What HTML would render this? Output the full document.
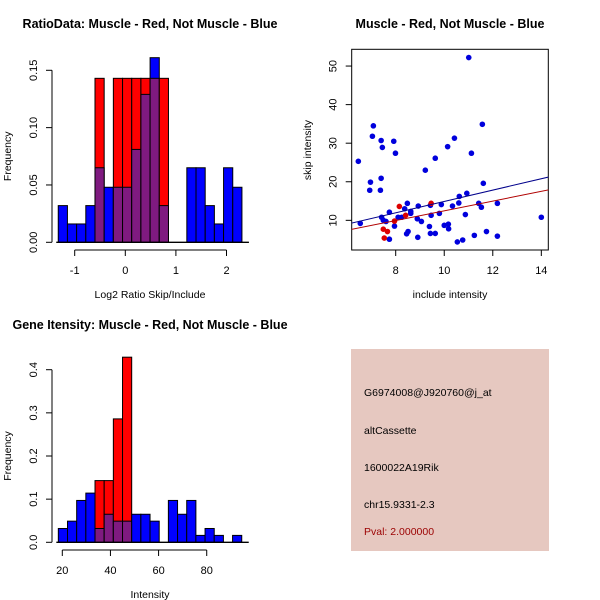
<!DOCTYPE html>
<html><head><meta charset="utf-8"><style>
body{margin:0;background:#fff}
svg{display:block;font-family:"Liberation Sans",sans-serif}
</style></head><body>
<svg id="c" width="600" height="600" viewBox="0 0 600 600" xmlns="http://www.w3.org/2000/svg">
<rect width="600" height="600" fill="#fff"/>
<text x="150" y="28" text-anchor="middle" font-size="12.5" font-weight="bold">RatioData: Muscle - Red, Not Muscle - Blue</text>
<text x="450" y="28" text-anchor="middle" font-size="12.5" font-weight="bold">Muscle - Red, Not Muscle - Blue</text>
<text x="150" y="329" text-anchor="middle" font-size="12.5" font-weight="bold">Gene Itensity: Muscle - Red, Not Muscle - Blue</text>
<g id="g1"></g>
<g id="g2"></g>
<g id="g3"></g>
<g>
<rect x="351" y="349" width="198" height="202" fill="#e6c8c0"/>
<text x="364" y="396" font-size="10.5">G6974008@J920760@j_at</text>
<text x="364" y="434" font-size="10.5">altCassette</text>
<text x="364" y="471" font-size="10.5">1600022A19Rik</text>
<text x="364" y="508" font-size="10.5">chr15.9331-2.3</text>
<text x="364" y="535" font-size="10.5" fill="#9b0000">Pval: 2.000000</text>
</g>
</svg>
<script>
// Ratio histogram data
const ratioBlue=[0.032,0.016,0.016,0.032,0.065,0.048,0.048,0.048,0.081,0.129,0.161,0.032,0,0,0.065,0.065,0.032,0.016,0.065,0.048];
const ratioRed=[0,0,0,0,0.143,0,0.143,0.143,0.143,0.143,0.143,0.143,0,0,0,0,0,0,0,0];
const ratioXTicks=[-1,0,1,2];
const ratioYTicks=[0,0.05,0.10,0.15];
const ratioYLabels=["0.00","0.05","0.10","0.15"];
// Intensity histogram data
const intBlue=[0.032,0.049,0.097,0.114,0.032,0.065,0.049,0.049,0.065,0.065,0.049,0,0.097,0.065,0.097,0.016,0.032,0.016,0,0.016];
const intRed=[0,0,0,0,0.143,0.143,0.286,0.429,0,0,0,0,0,0,0,0,0,0,0,0];
const intXTicks=[20,40,60,80];
const intYTicks=[0,0.1,0.2,0.3,0.4];
const intYLabels=["0.0","0.1","0.2","0.3","0.4"];
// Scatter data
const blueX=[6.46,6.54,6.93,6.96,7.08,7.04,7.40,7.45,7.40,7.37,7.42,7.49,7.6,7.74,7.74,7.92,7.99,7.95,8.1,8.25,8.37,8.48,8.45,8.51,8.62,8.62,8.91,8.93,8.89,9.06,9.22,9.39,9.43,9.46,9.43,9.63,9.63,9.80,9.88,10.0,10.14,10.17,10.18,10.34,10.42,10.54,10.6,10.62,10.76,10.87,10.93,11.01,11.12,11.24,11.42,11.53,11.57,11.61,11.74,12.19,12.19,14.0];
const blueY=[25.3,9.2,17.8,19.9,34.5,31.8,30.7,28.9,20.9,17.8,10.8,10.0,9.7,12.1,5.1,30.5,27.4,8.5,10.8,10.8,13.0,14.4,6.5,7.1,12.3,11.8,5.6,13.7,10.4,9.7,23.0,8.4,13.9,11.3,6.6,6.6,26.1,11.8,14.1,8.7,29.1,9.0,7.8,13.7,31.3,4.4,14.5,16.2,4.9,11.5,17.0,52.2,27.4,6.1,14.4,13.4,34.9,19.6,7.1,14.4,5.9,10.8];
const redX=[8.15,8.41,7.95,7.49,7.66,7.53,9.46];
const redY=[13.6,11.3,9.8,7.7,7.1,5.4,14.4];
const blueFit=[0.2,1.47];
const redFit=[-0.13,1.26];
const scXTicks=[8,10,12,14];
const scYTicks=[10,20,30,40,50];

const NS="http://www.w3.org/2000/svg";
function mk(p,tag,at){const e=document.createElementNS(NS,tag);for(const k in at)e.setAttribute(k,at[k]);p.appendChild(e);return e;}

function hist(g,blue,red,x0,bw,sx,sy,xt,yt,yl,yAxX,xAxY,xlab){
  const base=sy(0);
  for(let i=0;i<blue.length;i++){
    const xa=sx(x0+i*bw),xb=sx(x0+(i+1)*bw);
    const b=blue[i],r=red[i];
    const hi=Math.max(b,r),lo=Math.min(b,r);
    if(hi>0){
      const e=mk(g,'rect',{x:xa,y:sy(hi),width:xb-xa,height:base-sy(hi),fill:b>=r?'#0000ff':'#ff0000',stroke:'#000','stroke-width':1});
      
      
    }
    if(lo>0){
      const e=mk(g,'rect',{x:xa,y:sy(lo),width:xb-xa,height:base-sy(lo),fill:'#7f1a80',stroke:'#000','stroke-width':1});
      
      
    }
  }
  const bl=mk(g,'line',{x1:sx(x0)-2,x2:sx(x0+bw*blue.length)+7,y1:base,y2:base,stroke:'#000','stroke-width':1.3});
  
  
  const ya=mk(g,'line',{x1:yAxX,x2:yAxX,y1:sy(yt[0]),y2:sy(yt[yt.length-1]),stroke:'#000'});
  
  
  yt.forEach((v,i)=>{
    mk(g,'line',{x1:yAxX-6,x2:yAxX,y1:sy(v),y2:sy(v),stroke:'#000'});
    const t=mk(g,'text',{x:yAxX-15,y:sy(v),'font-size':11,'text-anchor':'middle',transform:`rotate(-90 ${yAxX-15} ${sy(v)})`});
    t.textContent=yl[i];
    
    
  });
  const xa2=mk(g,'line',{x1:sx(xt[0]),x2:sx(xt[xt.length-1]),y1:xAxY,y2:xAxY,stroke:'#000'});
  
  
  xt.forEach(v=>{
    mk(g,'line',{x1:sx(v),x2:sx(v),y1:xAxY,y2:xAxY+6,stroke:'#000'});
    const t=mk(g,'text',{x:sx(v),y:xAxY+24,'font-size':11,'text-anchor':'middle'});
    t.textContent=String(v);
    
    
  });
  const xl=mk(g,'text',{x:150,y:xAxY+48,'font-size':10.5,'text-anchor':'middle'});
  xl.textContent=xlab;
  
  
  const my=(sy(yt[0])+sy(yt[yt.length-1]))/2;
  const yl2=mk(g,'text',{x:11,y:my,'font-size':10.5,'text-anchor':'middle',transform:`rotate(-90 11 ${my})`});
  yl2.textContent='Frequency';
  
  
}

hist(document.getElementById('g1'),ratioBlue,ratioRed,-1.325,0.1815,
  v=>125.3+v*50.6, v=>242.3-v*1146.7, ratioXTicks,ratioYTicks,ratioYLabels,52,250,'Log2 Ratio Skip/Include');
hist(document.getElementById('g3'),intBlue,intRed,18.35,3.81,
  v=>62.3+(v-20)*2.407, v=>542.3-v*431.5, intXTicks,intYTicks,intYLabels,52,550,'Intensity');

(function(){
  const g=document.getElementById('g2');
  const sx=v=>395.7+(v-8)*24.27, sy=v=>258.9-v*3.857;
  const L=351.7,R=548.3,T=49.3,B=250;
  const fr=mk(g,'rect',{x:L,y:T,width:R-L,height:B-T,fill:'none',stroke:'#000'});
  
  
  const cp=mk(g,'clipPath',{id:'cp'});mk(cp,'rect',{x:L,y:T,width:R-L,height:B-T});
  const pts=mk(g,'g',{'clip-path':'url(#cp)'});
  blueX.forEach((x,i)=>{
    const c=mk(pts,'circle',{cx:sx(x),cy:sy(blueY[i]),r:2.8,fill:'#0000dd'});
    
    
  });
  redX.forEach((x,i)=>{
    const c=mk(pts,'circle',{cx:sx(x),cy:sy(redY[i]),r:2.8,fill:'#dd0000'});
    
    
  });
  const x1=6.1,x2=14.4;
  const lb=mk(pts,'line',{x1:sx(x1),x2:sx(x2),y1:sy(blueFit[0]+blueFit[1]*x1),y2:sy(blueFit[0]+blueFit[1]*x2),stroke:'#00008b','stroke-width':1});
  
  
  const lr=mk(pts,'line',{x1:sx(x1),x2:sx(x2),y1:sy(redFit[0]+redFit[1]*x1),y2:sy(redFit[0]+redFit[1]*x2),stroke:'#b00000','stroke-width':1});
  
  
  scXTicks.forEach(v=>{
    mk(g,'line',{x1:sx(v),x2:sx(v),y1:B,y2:B+6,stroke:'#000'});
    const t=mk(g,'text',{x:sx(v),y:B+24,'font-size':11,'text-anchor':'middle'});
    t.textContent=String(v);
    
    
  });
  scYTicks.forEach(v=>{
    mk(g,'line',{x1:L-6,x2:L,y1:sy(v),y2:sy(v),stroke:'#000'});
    const t=mk(g,'text',{x:L-15,y:sy(v),'font-size':11,'text-anchor':'middle',transform:`rotate(-90 ${L-15} ${sy(v)})`});
    t.textContent=String(v);
    
    
  });
  const xl=mk(g,'text',{x:450,y:298,'font-size':10.5,'text-anchor':'middle'});
  xl.textContent='include intensity';
  
  
  const yl=mk(g,'text',{x:311,y:150,'font-size':10.5,'text-anchor':'middle',transform:'rotate(-90 311 150)'});
  yl.textContent='skip intensity';
  
  
})();
</script>
</body></html>
